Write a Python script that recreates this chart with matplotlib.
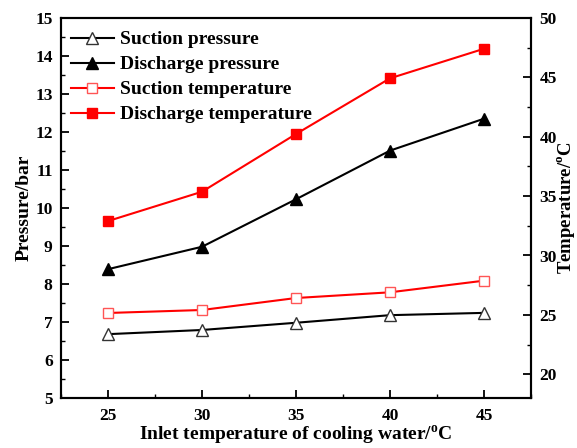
import matplotlib
matplotlib.use("Agg")
import matplotlib.pyplot as plt
from matplotlib.ticker import MultipleLocator

plt.rcParams['font.family'] = ['Liberation Serif', 'DejaVu Serif']
plt.rcParams['font.weight'] = 'bold'
plt.rcParams['mathtext.fontset'] = 'custom'
plt.rcParams['mathtext.rm'] = 'Liberation Serif:bold'
plt.rcParams['mathtext.bf'] = 'Liberation Serif:bold'

inlet_temp = [25, 30, 35, 40, 45]
suction_pressure = [6.68, 6.79, 6.98, 7.18, 7.24]
discharge_pressure = [8.39, 8.98, 10.23, 11.51, 12.35]
suction_temperature = [25.16, 25.41, 26.42, 26.90, 27.88]
discharge_temperature = [32.9, 35.37, 40.23, 44.92, 47.41]

fig = plt.figure(figsize=(5.77, 4.48), dpi=100)
ax = fig.add_axes([61/577, 50/448, 470/577, 380/448])
ax2 = ax.twinx()

l1, = ax.plot(inlet_temp, suction_pressure, color='black', lw=1.5, marker='^',
              ms=8, mfc='white', mec='#333333', mew=1.0, label='Suction pressure')
l2, = ax.plot(inlet_temp, discharge_pressure, color='black', lw=1.5, marker='^',
              ms=8, mfc='black', mec='black', label='Discharge pressure')
l3, = ax2.plot(inlet_temp, suction_temperature, color='red', lw=1.5, marker='s',
               ms=7, mfc='white', mec='#ff5555', mew=1.0, label='Suction temperature')
l4, = ax2.plot(inlet_temp, discharge_temperature, color='red', lw=1.5, marker='s',
               ms=7, mfc='red', mec='red', label='Discharge temperature')

ax.set_xlim(22.5, 47.5)
ax.set_ylim(5, 15)
ax2.set_ylim(18, 50)
ax.set_xticks(inlet_temp)
ax.xaxis.set_minor_locator(MultipleLocator(2.5))
ax.yaxis.set_major_locator(MultipleLocator(1))
ax.yaxis.set_minor_locator(MultipleLocator(0.5))
ax2.set_yticks([20, 25, 30, 35, 40, 45, 50])
ax2.yaxis.set_minor_locator(MultipleLocator(2.5))

for a in (ax, ax2):
    for s in a.spines.values():
        s.set_linewidth(1.5)
    a.tick_params(which='major', direction='in', length=6, width=1.3, labelsize=12.5)
    a.tick_params(which='minor', direction='in', length=3, width=1.0)
ax.tick_params(axis='x', which='both', top=False, pad=7)
ax.tick_params(axis='y', pad=6)
ax2.tick_params(axis='y', pad=6)
for lab in ax.get_xticklabels() + ax.get_yticklabels() + ax2.get_yticklabels():
    lab.set_fontweight('bold')

ax.set_xlabel(r'Inlet temperature of cooling water/$^{\mathbf{o}}$C', fontsize=14,
              fontweight='bold', labelpad=0)
ax.set_ylabel('Pressure/bar', fontsize=14, fontweight='bold', labelpad=2)
ax2.set_ylabel(r'Temperature/$^{\mathbf{o}}$C', fontsize=13.5, fontweight='bold')
ax2.yaxis.set_label_coords((555 - 61) / 470, 0.5)

leg = ax.legend(handles=[l1, l2, l3, l4], loc='upper left', frameon=False,
                prop={'family': 'Liberation Serif', 'weight': 'bold', 'size': 14},
                handlelength=2.2, handletextpad=0.36, labelspacing=0.38,
                borderpad=0.2, borderaxespad=0.3, bbox_to_anchor=(0.0, 0.992))

fig.savefig('out.png', dpi=100)
